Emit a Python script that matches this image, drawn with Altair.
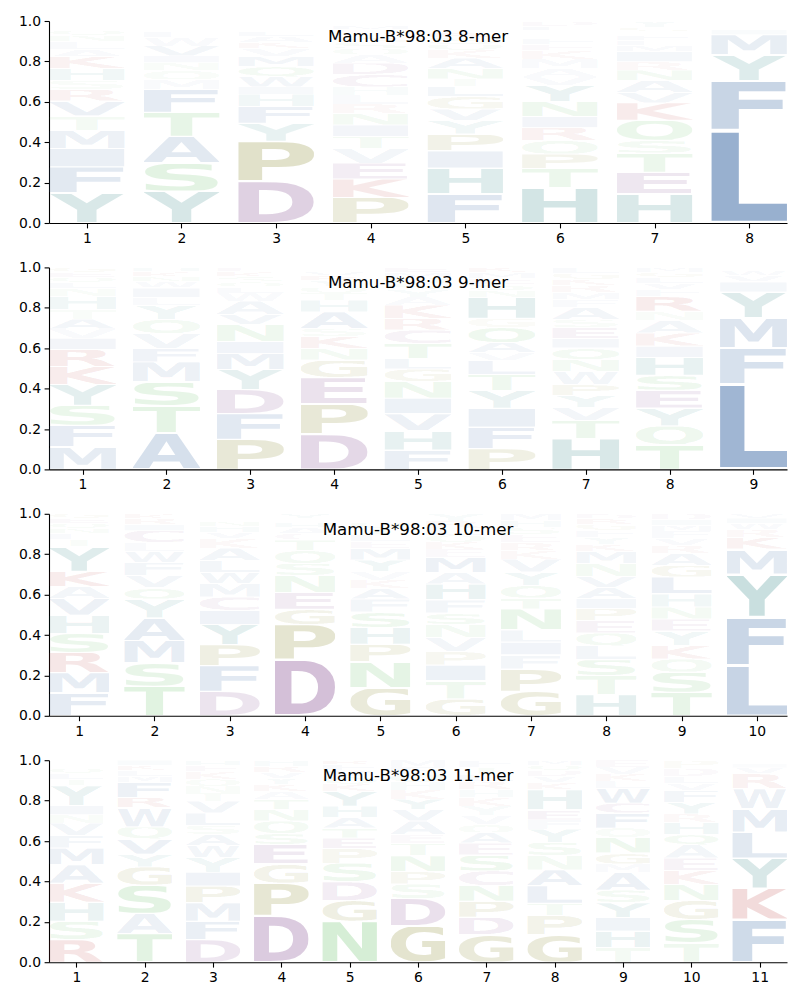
import base64
import altair as alt
import pandas as pd

# ---------------- data (letters bottom -> top, probabilities) ----------------
TITLES = ["Mamu-B*98:03 8-mer", "Mamu-B*98:03 9-mer",
          "Mamu-B*98:03 10-mer", "Mamu-B*98:03 11-mer"]

L8 = ["YFIMTVRSHKALNQWEG", "YSATFMQNIVWLHKE", "DPYFHIWQMVKALSNT",
      "PKEVTINRLHCDAQSGYFMW", "FHIPYVGLTNAKQSREDM", "HTPQRINYVAMKEFSGLD",
      "HETSQKVANRIMLFDGY", "LFYMIVWH"]
H8 = [[.149, .129, .091, .091, .07, .074, .058, .045, .058, .058, .036, .04, .03, .025, .02, .015, .011],
      [.157, .14, .132, .119, .116, .045, .045, .04, .033, .05, .04, .03, .02, .02, .013],
      [.207, .198, .089, .083, .061, .036, .05, .05, .05, .04, .03, .03, .025, .02, .015, .016],
      [.127, .091, .079, .071, .061, .056, .058, .046, .045, .04, .06, .058, .04, .03, .03, .025, .02, .02, .022, .02],
      [.144, .127, .086, .083, .066, .058, .061, .05, .038, .053, .05, .04, .03, .03, .025, .02, .02, .019],
      [.174, .096, .071, .066, .066, .055, .074, .078, .043, .043, .046, .04, .03, .03, .02, .02, .023, .025],
      [.144, .107, .096, .063, .099, .086, .05, .06, .053, .04, .05, .03, .025, .025, .02, .022, .03],
      [.46, .245, .127, .10, .025, .02, .013, .01]]

L9 = ["MFSYKRIVATHNLQEG", "ATSMFVQYLIWNKH", "PFDYMINVAWLQSKE",
      "DPEGNKSAHTQYRVL", "FHVINGLTCRKAYSQME", "PFIYTLVAQGHNSEMK",
      "HTVYPWNQIESAFMRKGL", "TQYESHIKANRFVLGM", "LFMYIVWH"]
H9 = [[.111, .107, .099, .104, .088, .086, .055, .045, .05, .045, .066, .04, .03, .025, .025, .024],
      [.182, .132, .119, .099, .069, .071, .069, .071, .04, .046, .03, .025, .025, .022],
      [.149, .127, .12, .099, .078, .061, .083, .05, .066, .04, .03, .025, .025, .025, .022],
      [.174, .149, .132, .086, .058, .058, .04, .083, .058, .035, .03, .03, .025, .022, .02],
      [.096, .096, .083, .078, .083, .061, .053, .074, .066, .058, .066, .04, .035, .03, .03, .026, .025],
      [.102, .107, .094, .088, .078, .069, .04, .05, .074, .046, .104, .035, .03, .03, .028, .025],
      [.152, .091, .063, .06, .053, .066, .06, .056, .046, .055, .04, .058, .04, .035, .035, .03, .03, .03],
      [.124, .091, .089, .088, .074, .089, .055, .066, .061, .046, .074, .035, .03, .03, .025, .023],
      [.423, .177, .149, .129, .05, .03, .025, .017]]

L10 = ["FMRSHVAKYTLNQEG", "TSMAYQVFWLCIRK", "DFPYICMWLAKVHNES",
       "DPGENSQTCAHKY", "GNPHSFAKVYMELTQRD", "GTIPVNSFHAMEKQLRY",
       "GPFILNTQYVKRESHM", "HTSLQEPIAVNMKYFGRD", "TSQKYENHLGARVFMID",
       "LFYMKRWIV"]
H10 = [[.113, .1, .1, .095, .09, .083, .058, .076, .124, .033, .03, .025, .025, .025, .023],
       [.146, .116, .111, .111, .095, .056, .058, .066, .053, .046, .058, .03, .03, .024],
       [.121, .128, .103, .1, .07, .066, .066, .056, .058, .063, .046, .03, .03, .025, .018, .02],
       [.279, .174, .075, .083, .083, .061, .063, .053, .03, .03, .025, .02, .024],
       [.138, .129, .088, .083, .075, .066, .053, .041, .04, .058, .058, .035, .035, .03, .03, .021, .02],
       [.083, .09, .078, .066, .07, .066, .055, .066, .078, .058, .075, .04, .035, .035, .035, .035, .035],
       [.121, .111, .07, .063, .06, .104, .055, .061, .066, .066, .04, .04, .04, .035, .035, .033],
       [.104, .095, .078, .07, .063, .063, .058, .05, .053, .055, .066, .058, .035, .035, .035, .03, .027, .025],
       [.116, .1, .066, .066, .071, .061, .058, .066, .083, .058, .058, .041, .035, .035, .03, .026, .03],
       [.25, .24, .211, .124, .058, .04, .03, .025, .022]]

L11 = ["RSHKAMFVNIYTLQEG", "TASGYVQWRFMLKI", "DFMPIYWASLVTNQKEH",
       "DPGESQNTAKYVRH", "NGDSPETAHYKQVFR", "GDSPNTEAVYKHQFM",
       "GDPNCSEAQVYKHRLTF", "GPTLANSYFEHKVDQM", "THIYSAMGNQFCWLKVE",
       "TSGNKEAQHRYFVLDP", "FKYLMWRVIH"]
H11 = [[.112, .091, .094, .094, .091, .083, .061, .063, .041, .045, .099, .03, .03, .025, .021, .02],
       [.142, .099, .14, .091, .063, .076, .058, .096, .05, .074, .03, .03, .025, .026],
       [.112, .091, .091, .083, .069, .071, .061, .055, .045, .061, .058, .04, .035, .035, .035, .03, .028],
       [.231, .16, .096, .096, .055, .061, .058, .05, .038, .035, .03, .03, .03, .03],
       [.203, .102, .093, .093, .071, .053, .05, .05, .058, .074, .035, .035, .03, .03, .023],
       [.179, .137, .071, .061, .079, .061, .045, .066, .058, .05, .045, .04, .04, .035, .033],
       [.137, .086, .079, .079, .071, .078, .061, .05, .041, .046, .045, .041, .04, .04, .035, .035, .036],
       [.137, .094, .061, .086, .079, .071, .066, .066, .045, .05, .099, .035, .03, .03, .026, .025],
       [.071, .083, .066, .074, .063, .088, .041, .055, .078, .045, .074, .05, .074, .035, .035, .035, .033],
       [.096, .116, .094, .078, .069, .063, .066, .05, .061, .041, .058, .058, .035, .035, .04, .04],
       [.212, .154, .149, .129, .116, .099, .073, .03, .02, .018]]

PANELS = [(L8, H8), (L9, H9), (L10, H10), (L11, H11)]

# ---------------- styling ----------------
BLUE, TEAL, OLIVE, PURPLE, RED, GREEN = "#4470a8", "#2a8282", "#808020", "#7f438b", "#b83a3a", "#57b957"
COLORS = {
    "L": BLUE, "F": BLUE, "M": BLUE, "I": BLUE, "V": BLUE, "W": BLUE, "A": BLUE,
    "Y": TEAL, "H": TEAL,
    "P": OLIVE, "G": OLIVE,
    "D": PURPLE, "E": PURPLE, "C": PURPLE,
    "K": RED, "R": RED,
    "S": GREEN, "T": GREEN, "N": GREEN, "Q": GREEN,
}
# approximate ink extents (left, right) of DejaVu Sans Bold capitals, in em
INK = {
    "A": (0.01, 0.764), "C": (0.05, 0.68), "D": (0.091, 0.78), "E": (0.091, 0.62),
    "F": (0.091, 0.61), "G": (0.05, 0.75), "H": (0.091, 0.747), "I": (0.091, 0.281),
    "K": (0.091, 0.78), "L": (0.091, 0.61), "M": (0.091, 0.904), "N": (0.091, 0.747),
    "P": (0.091, 0.69), "Q": (0.05, 0.80), "R": (0.091, 0.76), "S": (0.06, 0.66),
    "T": (0.01, 0.672), "V": (0.01, 0.764), "W": (0.02, 1.083), "Y": (-0.005, 0.729),
}
ALPHA_GAIN = 1.2
GLYPH_PAD = 0.025
GLYPH_W = 0.8
W, H = 738, 202
FONT = "DejaVu Sans"


def glyph_url(letter, color, alpha):
    left, right = INK[letter]
    vx, vw = left * 100, (right - left) * 100
    svg = ("<svg xmlns='http://www.w3.org/2000/svg' width='100' height='73' "
           f"viewBox='{vx:.2f} -72.9 {vw:.2f} 72.9' preserveAspectRatio='none'>"
           "<text x='0' y='0' font-family='DejaVu Sans' font-weight='bold' font-size='100' "
           f"fill='{color}' fill-opacity='{alpha:.3f}'>{letter}</text></svg>")
    return "data:image/svg+xml;base64," + base64.b64encode(svg.encode()).decode()


def build(letters_cols, heights_cols):
    rows = []
    for i, (letters, heights) in enumerate(zip(letters_cols, heights_cols), start=1):
        base = 0.0
        for ch, h in zip(letters, heights):
            pad = h * GLYPH_PAD
            rows.append(dict(pos=i, letter=ch, prob=h,
                             x0=i - GLYPH_W / 2, x1=i + GLYPH_W / 2,
                             y0=base + pad, y1=base + h - pad,
                             url=glyph_url(ch, COLORS[ch], min(1.0, ALPHA_GAIN * h))))
            base += h
    return pd.DataFrame(rows)


def panel(letters_cols, heights_cols, title):
    n = len(letters_cols)
    df = build(letters_cols, heights_cols)
    xscale = alt.Scale(domain=[0.6, n + 0.4], nice=False, zero=False)
    yscale = alt.Scale(domain=[0, 1], nice=False, zero=True)
    logo = alt.Chart(df).mark_image(aspect=False).encode(
        x=alt.X("x0:Q", scale=xscale,
                axis=alt.Axis(values=list(range(1, n + 1)), format="d", title=None)),
        x2="x1:Q",
        y=alt.Y("y0:Q", scale=yscale,
                axis=alt.Axis(values=[0, 0.2, 0.4, 0.6, 0.8, 1.0], format=".1f", title=None)),
        y2="y1:Q",
        url="url:N",
    )
    label = alt.Chart(pd.DataFrame({"t": [title]})).mark_text(
        font=FONT, fontSize=16.7, align="center", baseline="middle", color="black"
    ).encode(x=alt.value(W / 2), y=alt.value(16), text="t:N")
    return alt.layer(logo, label).properties(width=W, height=H)


charts = [panel(L, Hs, t) for (L, Hs), t in zip(PANELS, TITLES)]

chart = alt.vconcat(*charts, spacing=14.4).properties(
    padding={"left": 10, "top": 6, "right": 5, "bottom": 5}
).configure_view(stroke=None).configure_axis(
    grid=False,
    domainColor="black", domainWidth=1.1,
    tickColor="black", tickWidth=1.1, tickSize=4.9,
    labelColor="black", labelFont=FONT, labelFontSize=13.9, labelPadding=3.5,
)

chart.save("out.html", embed_options={"renderer": "svg", "actions": False})
